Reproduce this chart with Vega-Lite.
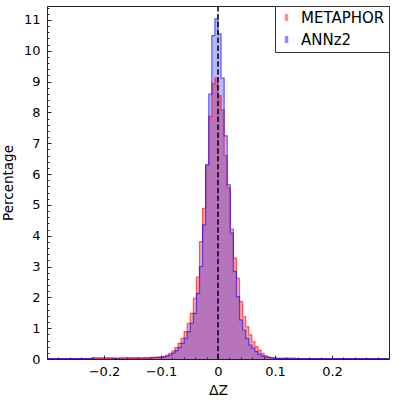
{
"$schema":"https://vega.github.io/schema/vega-lite/v6.json",
"width":342,"height":353,"autosize":"none",
"padding":{"left":47,"top":6,"right":18,"bottom":41},
"config":{
  "font":"DejaVu Sans",
  "view":{"stroke":"#222","strokeWidth":1},
  "axis":{"labelFont":"DejaVu Sans","titleFont":"DejaVu Sans","labelColor":"#000","titleColor":"#000","titleFontWeight":"normal","grid":false,"tickColor":"#222","tickWidth":1},
  "legend":{"labelFont":"DejaVu Sans","labelColor":"#000"}
},
"data":{"values":[
{"s":"METAPHOR","x":-0.3024,"p":0.01},{"s":"METAPHOR","x":-0.297,"p":0.01},{"s":"METAPHOR","x":-0.2916,"p":0.01},{"s":"METAPHOR","x":-0.2862,"p":0.01},{"s":"METAPHOR","x":-0.2808,"p":0.01},{"s":"METAPHOR","x":-0.2754,"p":0.01},{"s":"METAPHOR","x":-0.27,"p":0.01},{"s":"METAPHOR","x":-0.2646,"p":0.01},{"s":"METAPHOR","x":-0.2592,"p":0.01},{"s":"METAPHOR","x":-0.2538,"p":0.01},{"s":"METAPHOR","x":-0.2484,"p":0.01},{"s":"METAPHOR","x":-0.243,"p":0.01},{"s":"METAPHOR","x":-0.2376,"p":0.01},{"s":"METAPHOR","x":-0.2322,"p":0.01},{"s":"METAPHOR","x":-0.2268,"p":0.01},{"s":"METAPHOR","x":-0.2214,"p":0.01},{"s":"METAPHOR","x":-0.216,"p":0.01},{"s":"METAPHOR","x":-0.2106,"p":0.01},{"s":"METAPHOR","x":-0.2052,"p":0.01},{"s":"METAPHOR","x":-0.1998,"p":0.01},{"s":"METAPHOR","x":-0.1944,"p":0.01},{"s":"METAPHOR","x":-0.189,"p":0.01},{"s":"METAPHOR","x":-0.1836,"p":0.01},{"s":"METAPHOR","x":-0.1782,"p":0.01},{"s":"METAPHOR","x":-0.1728,"p":0.01},{"s":"METAPHOR","x":-0.1674,"p":0.01},{"s":"METAPHOR","x":-0.162,"p":0.01},{"s":"METAPHOR","x":-0.1566,"p":0.02},{"s":"METAPHOR","x":-0.1512,"p":0.02},{"s":"METAPHOR","x":-0.1458,"p":0.02},{"s":"METAPHOR","x":-0.1404,"p":0.02},{"s":"METAPHOR","x":-0.135,"p":0.02},{"s":"METAPHOR","x":-0.1296,"p":0.03},{"s":"METAPHOR","x":-0.1242,"p":0.03},{"s":"METAPHOR","x":-0.1188,"p":0.03},{"s":"METAPHOR","x":-0.1134,"p":0.04},{"s":"METAPHOR","x":-0.108,"p":0.05},{"s":"METAPHOR","x":-0.1026,"p":0.06},{"s":"METAPHOR","x":-0.0972,"p":0.08},{"s":"METAPHOR","x":-0.0918,"p":0.12},{"s":"METAPHOR","x":-0.0864,"p":0.18},{"s":"METAPHOR","x":-0.081,"p":0.26},{"s":"METAPHOR","x":-0.0756,"p":0.37},{"s":"METAPHOR","x":-0.0702,"p":0.51},{"s":"METAPHOR","x":-0.0648,"p":0.67},{"s":"METAPHOR","x":-0.0594,"p":0.89},{"s":"METAPHOR","x":-0.054,"p":1.16},{"s":"METAPHOR","x":-0.0486,"p":1.48},{"s":"METAPHOR","x":-0.0432,"p":1.97},{"s":"METAPHOR","x":-0.0378,"p":2.66},{"s":"METAPHOR","x":-0.0324,"p":3.81},{"s":"METAPHOR","x":-0.027,"p":4.89},{"s":"METAPHOR","x":-0.0216,"p":6.3},{"s":"METAPHOR","x":-0.0162,"p":7.87},{"s":"METAPHOR","x":-0.0108,"p":8.93},{"s":"METAPHOR","x":-0.0054,"p":9.11},{"s":"METAPHOR","x":0,"p":8.54},{"s":"METAPHOR","x":0.0054,"p":8.08},{"s":"METAPHOR","x":0.0108,"p":6.6},{"s":"METAPHOR","x":0.0162,"p":5.55},{"s":"METAPHOR","x":0.0216,"p":4.21},{"s":"METAPHOR","x":0.027,"p":3.27},{"s":"METAPHOR","x":0.0324,"p":2.62},{"s":"METAPHOR","x":0.0378,"p":1.86},{"s":"METAPHOR","x":0.0432,"p":1.37},{"s":"METAPHOR","x":0.0486,"p":1.05},{"s":"METAPHOR","x":0.054,"p":0.78},{"s":"METAPHOR","x":0.0594,"p":0.56},{"s":"METAPHOR","x":0.0648,"p":0.4},{"s":"METAPHOR","x":0.0702,"p":0.29},{"s":"METAPHOR","x":0.0756,"p":0.18},{"s":"METAPHOR","x":0.081,"p":0.1},{"s":"METAPHOR","x":0.0864,"p":0.06},{"s":"METAPHOR","x":0.0918,"p":0.04},{"s":"METAPHOR","x":0.0972,"p":0.03},{"s":"METAPHOR","x":0.1026,"p":0.02},{"s":"METAPHOR","x":0.108,"p":0.02},{"s":"METAPHOR","x":0.1134,"p":0.02},{"s":"METAPHOR","x":0.1188,"p":0.02},{"s":"METAPHOR","x":0.1242,"p":0.02},{"s":"METAPHOR","x":0.1296,"p":0.02},{"s":"METAPHOR","x":0.135,"p":0.01},{"s":"METAPHOR","x":0.1404,"p":0.01},{"s":"METAPHOR","x":0.1458,"p":0.01},{"s":"METAPHOR","x":0.1512,"p":0.01},{"s":"METAPHOR","x":0.1566,"p":0.01},{"s":"METAPHOR","x":0.162,"p":0.01},{"s":"METAPHOR","x":0.1674,"p":0.01},{"s":"METAPHOR","x":0.1728,"p":0.01},{"s":"METAPHOR","x":0.1782,"p":0.01},{"s":"METAPHOR","x":0.1836,"p":0.01},{"s":"METAPHOR","x":0.189,"p":0.01},{"s":"METAPHOR","x":0.1944,"p":0.01},{"s":"METAPHOR","x":0.1998,"p":0.01},{"s":"METAPHOR","x":0.2052,"p":0.01},{"s":"METAPHOR","x":0.2106,"p":0.01},{"s":"METAPHOR","x":0.216,"p":0.01},{"s":"METAPHOR","x":0.2214,"p":0.01},{"s":"METAPHOR","x":0.2268,"p":0.01},{"s":"METAPHOR","x":0.2322,"p":0.01},{"s":"METAPHOR","x":0.2376,"p":0.01},{"s":"METAPHOR","x":0.243,"p":0.01},{"s":"METAPHOR","x":0.2484,"p":0.01},{"s":"METAPHOR","x":0.2538,"p":0.01},{"s":"METAPHOR","x":0.2592,"p":0.01},{"s":"METAPHOR","x":0.2646,"p":0.01},{"s":"METAPHOR","x":0.27,"p":0.01},{"s":"METAPHOR","x":0.2754,"p":0.01},{"s":"METAPHOR","x":0.2808,"p":0.01},{"s":"METAPHOR","x":0.2862,"p":0.01},{"s":"METAPHOR","x":0.2916,"p":0.01},{"s":"METAPHOR","x":0.297,"p":0.01},{"s":"METAPHOR","x":0.3024,"p":0},
{"s":"ANNz2","x":-0.3024,"p":0.01},{"s":"ANNz2","x":-0.297,"p":0.01},{"s":"ANNz2","x":-0.2916,"p":0.01},{"s":"ANNz2","x":-0.2862,"p":0.01},{"s":"ANNz2","x":-0.2808,"p":0.01},{"s":"ANNz2","x":-0.2754,"p":0.01},{"s":"ANNz2","x":-0.27,"p":0.01},{"s":"ANNz2","x":-0.2646,"p":0.01},{"s":"ANNz2","x":-0.2592,"p":0.01},{"s":"ANNz2","x":-0.2538,"p":0.01},{"s":"ANNz2","x":-0.2484,"p":0.01},{"s":"ANNz2","x":-0.243,"p":0.01},{"s":"ANNz2","x":-0.2376,"p":0.01},{"s":"ANNz2","x":-0.2322,"p":0.01},{"s":"ANNz2","x":-0.2268,"p":0.01},{"s":"ANNz2","x":-0.2214,"p":0.04},{"s":"ANNz2","x":-0.216,"p":0.04},{"s":"ANNz2","x":-0.2106,"p":0.04},{"s":"ANNz2","x":-0.2052,"p":0.04},{"s":"ANNz2","x":-0.1998,"p":0.04},{"s":"ANNz2","x":-0.1944,"p":0.04},{"s":"ANNz2","x":-0.189,"p":0.04},{"s":"ANNz2","x":-0.1836,"p":0.02},{"s":"ANNz2","x":-0.1782,"p":0.02},{"s":"ANNz2","x":-0.1728,"p":0.04},{"s":"ANNz2","x":-0.1674,"p":0.04},{"s":"ANNz2","x":-0.162,"p":0.04},{"s":"ANNz2","x":-0.1566,"p":0.04},{"s":"ANNz2","x":-0.1512,"p":0.04},{"s":"ANNz2","x":-0.1458,"p":0.04},{"s":"ANNz2","x":-0.1404,"p":0.04},{"s":"ANNz2","x":-0.135,"p":0.04},{"s":"ANNz2","x":-0.1296,"p":0.04},{"s":"ANNz2","x":-0.1242,"p":0.04},{"s":"ANNz2","x":-0.1188,"p":0.05},{"s":"ANNz2","x":-0.1134,"p":0.05},{"s":"ANNz2","x":-0.108,"p":0.05},{"s":"ANNz2","x":-0.1026,"p":0.06},{"s":"ANNz2","x":-0.0972,"p":0.07},{"s":"ANNz2","x":-0.0918,"p":0.09},{"s":"ANNz2","x":-0.0864,"p":0.13},{"s":"ANNz2","x":-0.081,"p":0.19},{"s":"ANNz2","x":-0.0756,"p":0.27},{"s":"ANNz2","x":-0.0702,"p":0.37},{"s":"ANNz2","x":-0.0648,"p":0.51},{"s":"ANNz2","x":-0.0594,"p":0.67},{"s":"ANNz2","x":-0.054,"p":0.89},{"s":"ANNz2","x":-0.0486,"p":1.16},{"s":"ANNz2","x":-0.0432,"p":1.48},{"s":"ANNz2","x":-0.0378,"p":2.13},{"s":"ANNz2","x":-0.0324,"p":3.0},{"s":"ANNz2","x":-0.027,"p":4.35},{"s":"ANNz2","x":-0.0216,"p":6.3},{"s":"ANNz2","x":-0.0162,"p":8.59},{"s":"ANNz2","x":-0.0108,"p":10.49},{"s":"ANNz2","x":-0.0054,"p":11.03},{"s":"ANNz2","x":0,"p":10.55},{"s":"ANNz2","x":0.0054,"p":9.11},{"s":"ANNz2","x":0.0108,"p":7.24},{"s":"ANNz2","x":0.0162,"p":5.65},{"s":"ANNz2","x":0.0216,"p":4.08},{"s":"ANNz2","x":0.027,"p":2.84},{"s":"ANNz2","x":0.0324,"p":2.02},{"s":"ANNz2","x":0.0378,"p":1.27},{"s":"ANNz2","x":0.0432,"p":0.94},{"s":"ANNz2","x":0.0486,"p":0.67},{"s":"ANNz2","x":0.054,"p":0.45},{"s":"ANNz2","x":0.0594,"p":0.35},{"s":"ANNz2","x":0.0648,"p":0.24},{"s":"ANNz2","x":0.0702,"p":0.15},{"s":"ANNz2","x":0.0756,"p":0.1},{"s":"ANNz2","x":0.081,"p":0.07},{"s":"ANNz2","x":0.0864,"p":0.05},{"s":"ANNz2","x":0.0918,"p":0.04},{"s":"ANNz2","x":0.0972,"p":0.03},{"s":"ANNz2","x":0.1026,"p":0.02},{"s":"ANNz2","x":0.108,"p":0.02},{"s":"ANNz2","x":0.1134,"p":0.02},{"s":"ANNz2","x":0.1188,"p":0.02},{"s":"ANNz2","x":0.1242,"p":0.02},{"s":"ANNz2","x":0.1296,"p":0.02},{"s":"ANNz2","x":0.135,"p":0.01},{"s":"ANNz2","x":0.1404,"p":0.01},{"s":"ANNz2","x":0.1458,"p":0.01},{"s":"ANNz2","x":0.1512,"p":0.01},{"s":"ANNz2","x":0.1566,"p":0.01},{"s":"ANNz2","x":0.162,"p":0.01},{"s":"ANNz2","x":0.1674,"p":0.01},{"s":"ANNz2","x":0.1728,"p":0.01},{"s":"ANNz2","x":0.1782,"p":0.01},{"s":"ANNz2","x":0.1836,"p":0.01},{"s":"ANNz2","x":0.189,"p":0.01},{"s":"ANNz2","x":0.1944,"p":0.01},{"s":"ANNz2","x":0.1998,"p":0.01},{"s":"ANNz2","x":0.2052,"p":0.01},{"s":"ANNz2","x":0.2106,"p":0.01},{"s":"ANNz2","x":0.216,"p":0.01},{"s":"ANNz2","x":0.2214,"p":0.01},{"s":"ANNz2","x":0.2268,"p":0.01},{"s":"ANNz2","x":0.2322,"p":0.01},{"s":"ANNz2","x":0.2376,"p":0.01},{"s":"ANNz2","x":0.243,"p":0.01},{"s":"ANNz2","x":0.2484,"p":0.01},{"s":"ANNz2","x":0.2538,"p":0.01},{"s":"ANNz2","x":0.2592,"p":0.01},{"s":"ANNz2","x":0.2646,"p":0.01},{"s":"ANNz2","x":0.27,"p":0.01},{"s":"ANNz2","x":0.2754,"p":0.01},{"s":"ANNz2","x":0.2808,"p":0.01},{"s":"ANNz2","x":0.2862,"p":0.01},{"s":"ANNz2","x":0.2916,"p":0.01},{"s":"ANNz2","x":0.297,"p":0.01},{"s":"ANNz2","x":0.3024,"p":0}
]},
"resolve":{"axis":{"x":"independent","y":"independent"}},
"layer":[
 {"transform":[{"filter":"datum.s === 'METAPHOR'"}],
  "mark":{"type":"area","interpolate":"step-after","fillOpacity":0.37,"clip":true},
  "encoding":{
   "x":{"field":"x","type":"quantitative","scale":{"domain":[-0.3,0.3],"nice":false,"zero":false},
        "axis":{"orient":"bottom","values":[-0.2,-0.1,0,0.1,0.2],"labelExpr":"datum.value == 0 ? '0' : format(datum.value, '.1f')","ticks":false,"domain":false,"labelFontSize":13,"labelPadding":6,"title":"ΔZ","titleFontSize":14,"titlePadding":5}},
   "y":{"field":"p","type":"quantitative","stack":null,"scale":{"domain":[0,11.45],"nice":false},
        "axis":{"orient":"left","values":[0,1,2,3,4,5,6,7,8,9,10,11],"format":"d","ticks":false,"domain":false,"labelFontSize":13,"labelPadding":7,"title":"Percentage","titleFontSize":13.5,"titlePadding":8}},
   "color":{"field":"s","type":"nominal","scale":{"domain":["METAPHOR","ANNz2"],"range":["#ff0000","#0000ff"]},
        "legend":{"title":null,"orient":"top-right","offset":0,"padding":4,"rowPadding":6,"labelFontSize":15,"labelOffset":7,"strokeColor":"#333","fillColor":"#ffffff","cornerRadius":0,"symbolType":"M-0.5,-1H0.5V1H-0.5Z","symbolSize":49,"symbolOpacity":0.45,"symbolStrokeWidth":0}}
  }},
 {"transform":[{"filter":"datum.s === 'ANNz2'"}],
  "mark":{"type":"area","interpolate":"step-after","fillOpacity":0.28,"clip":true},
  "encoding":{
   "x":{"field":"x","type":"quantitative","scale":{"domain":[-0.3,0.3],"nice":false,"zero":false},"axis":null},
   "y":{"field":"p","type":"quantitative","stack":null,"scale":{"domain":[0,11.45],"nice":false},"axis":null},
   "color":{"field":"s","type":"nominal","scale":{"domain":["METAPHOR","ANNz2"],"range":["#ff0000","#0000ff"]}}
  }},
 {"transform":[{"filter":"datum.s === 'METAPHOR'"}],
  "mark":{"type":"line","interpolate":"step-after","stroke":"#ff0000","strokeWidth":1.2,"opacity":0.6,"clip":true},
  "encoding":{
   "x":{"field":"x","type":"quantitative","scale":{"domain":[-0.3,0.3],"nice":false,"zero":false},"axis":null},
   "y":{"field":"p","type":"quantitative","scale":{"domain":[0,11.45],"nice":false},"axis":null}
  }},
 {"transform":[{"filter":"datum.s === 'ANNz2'"}],
  "mark":{"type":"line","interpolate":"step-after","stroke":"#0000ff","strokeWidth":1.2,"opacity":0.6,"clip":true},
  "encoding":{
   "x":{"field":"x","type":"quantitative","scale":{"domain":[-0.3,0.3],"nice":false,"zero":false},"axis":null},
   "y":{"field":"p","type":"quantitative","scale":{"domain":[0,11.45],"nice":false},"axis":null}
  }},
 {"data":{"values":[{"x":0}]},
  "mark":{"type":"rule","color":"#000","strokeWidth":1.5,"strokeDash":[5.5,2.4]},
  "encoding":{
   "x":{"field":"x","type":"quantitative","scale":{"domain":[-0.3,0.3],"nice":false,"zero":false},"axis":null}
  }},
 {"mark":{"type":"point","opacity":0},
  "encoding":{
   "x":{"field":"x","type":"quantitative","scale":{"domain":[-0.3,0.3],"nice":false,"zero":false},
        "axis":{"orient":"bottom","values":[-0.2,-0.1,0,0.1,0.2],"labels":false,"domain":false,"ticks":true,"tickSize":-4,"title":null}},
   "y":{"field":"p","type":"quantitative","scale":{"domain":[0,11.45],"nice":false},
        "axis":{"orient":"left","values":[0,1,2,3,4,5,6,7,8,9,10,11],"labels":false,"domain":false,"ticks":true,"tickSize":-4,"title":null}}
  }},
 {"mark":{"type":"point","opacity":0},
  "encoding":{
   "x":{"field":"x","type":"quantitative","scale":{"domain":[-0.3,0.3],"nice":false,"zero":false},
        "axis":{"orient":"bottom","values":[-0.28,-0.26,-0.24,-0.22,-0.18,-0.16,-0.14,-0.12,-0.08,-0.06,-0.04,-0.02,0.02,0.04,0.06,0.08,0.12,0.14,0.16,0.18,0.22,0.24,0.26,0.28],"labels":false,"domain":false,"ticks":true,"tickSize":-2,"title":null}},
   "y":{"field":"p","type":"quantitative","scale":{"domain":[0,11.45],"nice":false},
        "axis":{"orient":"left","values":[0.2,0.4,0.6,0.8,1.2,1.4,1.6,1.8,2.2,2.4,2.6,2.8,3.2,3.4,3.6,3.8,4.2,4.4,4.6,4.8,5.2,5.4,5.6,5.8,6.2,6.4,6.6,6.8,7.2,7.4,7.6,7.8,8.2,8.4,8.6,8.8,9.2,9.4,9.6,9.8,10.2,10.4,10.6,10.8,11.2,11.4],"labels":false,"domain":false,"ticks":true,"tickSize":-2,"title":null}}
  }}
]
}
